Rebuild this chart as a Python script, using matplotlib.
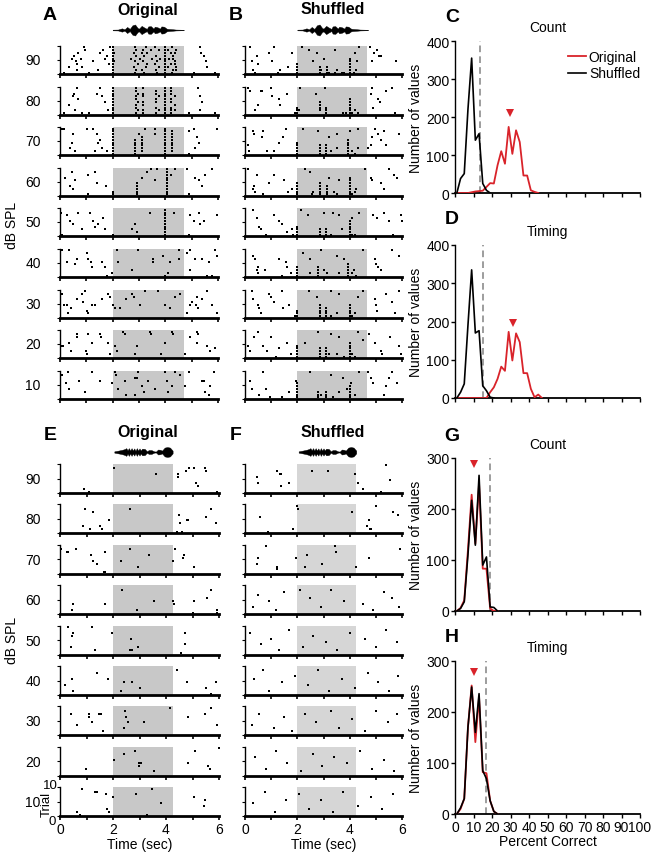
import matplotlib.pyplot as plt

plt.rcParams['font.family'] = ['Liberation Sans', 'DejaVu Sans']

W, H = 651, 853
RED = '#d9232a'
GRAY_A = '#c8c8c8'
GRAY_F = '#d6d6d6'

# ---------------- data ----------------
levels = [90, 80, 70, 60, 50, 40, 30, 20, 10]
ALL = [1, 2, 3, 4, 5, 6, 7, 8, 9, 10]

# raster spikes: (time in s, trial or list of trials)
A90 = [(2.0, ALL), (4.0, ALL), (2.85, [1, 5, 10]), (2.9, [2, 7, 9]), (2.8, [3, 8]), (2.95, [4]), (2.7, [6]),
       (3.2, [1, 7]), (3.1, [2, 8]), (3.25, [3, 10]), (3.3, [4, 8]), (3.15, [5, 9]), (3.05, [6]),
       (3.7, [1, 5]), (3.65, [2, 7]), (3.75, [3, 9]), (3.6, [4, 10]), (3.8, [6]), (3.5, [6]), (3.45, [9]),
       (4.25, [1, 10]), (4.3, [2, 7, 6]), (4.1, [3, 9]), (4.2, [4, 8]), (4.35, [5, 4, 8]), (4.15, [6]), (4.4, [2, 3, 9]),
       (2.05, [5, 8]), (0.15, 1), (0.65, [2, 4]), (0.35, 3), (0.85, 3), (0.6, 5), (1.25, 5), (0.45, 6), (0.8, 6),
       (1.7, 6), (0.55, 7), (1.8, 7), (0.7, 8), (1.5, 8), (0.95, 9), (1.65, 9), (0.9, 10), (1.9, 10), (1.12, 1),
       (1.45, 2), (1.85, 4), (5.1, 1), (5.9, 1), (5.6, 3), (5.55, 5), (5.45, 7), (5.35, 8), (5.3, 10)]
A80 = [(2.0, ALL), (4.0, ALL), (2.9, [1, 3, 4, 6, 7, 9, 10]), (2.95, [2, 5, 8]), (3.15, [1, 2, 4, 5, 7, 8, 10]),
       (3.65, [1, 3, 5, 6, 8, 9]), (3.75, [2, 7]), (4.2, [1, 2, 3, 5, 6, 8, 9, 10]), (4.35, [2, 4, 7]),
       (0.16, 1), (0.34, 4), (0.5, 7), (0.55, 8), (0.63, 10), (0.7, 6), (0.57, 2), (0.82, 1), (1.12, 1),
       (1.4, 8), (1.52, 10), (1.59, 7), (1.71, 5), (1.84, 2),
       (5.24, 10), (5.33, 7), (5.4, 5), (4.89, 1), (5.33, 2), (5.9, 1)]
A70 = [(2.0, ALL), (4.0, ALL), (2.83, [1, 2, 3, 4, 5, 6]), (3.13, [2, 3, 4, 5, 6, 7]), (3.24, 10), (3.62, [8, 10]),
       (4.25, [2, 3, 4, 5, 6, 7, 8, 9]), (3.0, 8),
       (0.06, 10), (0.16, 10), (0.44, 5), (0.5, 8), (0.38, 3), (0.57, 2), (1.02, 10), (1.27, 10), (1.4, 8),
       (1.46, 5), (1.33, 2), (1.59, 3), (1.78, 2), (1.52, 6),
       (4.89, 9), (5.08, 10), (5.2, 7), (5.27, 5), (5.14, 3), (5.96, 10), (4.89, 1)]
A60 = [(4.06, ALL), (2.92, [1, 2, 3, 4, 5]), (3.1, 7), (3.3, 9), (3.45, 10), (3.68, 10), (3.62, 6), (4.38, 10),
       (4.2, 8), (2.0, [1, 2]),
       (0.19, 7), (0.38, 4), (0.47, 9), (0.5, 3), (0.57, 6), (1.08, 1), (1.05, 8), (1.33, 9), (1.4, 5), (1.74, 4),
       (4.82, 10), (5.14, 7), (5.29, 6), (5.39, 4), (5.77, 10), (4.89, 1), (5.5, 8)]
A50 = [(4.0, ALL), (0.04, 9), (0.25, 8), (0.38, 6), (0.06, 1), (0.5, 5), (0.7, 9), (0.82, 3), (1.27, 6), (1.33, 4),
       (1.46, 5), (1.65, 7), (1.71, 3), (1.14, 9), (2.03, 1), (2.86, 5), (2.75, 3), (2.92, 2), (3.43, 9), (4.34, 9),
       (4.89, 1), (4.95, 8), (5.08, 6), (5.27, 9), (5.33, 5), (5.46, 6), (5.96, 8)]
A40 = [(0.06, 10), (0.34, 10), (0.25, 6), (0.57, 5), (0.63, 7), (1.02, 9), (1.08, 7), (1.18, 6), (1.21, 4),
       (1.59, 6), (1.71, 4), (1.78, 1), (1.97, 2), (2.16, 10), (2.2, 6), (2.73, 3), (2.98, 10), (3.53, 7),
       (3.55, 6), (3.9, 8), (4.0, 1), (4.12, 2), (4.19, 6), (4.5, 10), (4.52, 7), (4.82, 9), (4.95, 10), (4.95, 3),
       (5.14, 7), (5.39, 7), (5.65, 6), (5.9, 10), (5.96, 8), (5.77, 1), (5.58, 1)]
A30 = [(0.06, 9), (0.16, 5), (0.25, 5), (0.32, 2), (0.42, 4), (0.63, 7), (0.85, 9), (0.95, 10), (0.89, 6),
       (1.02, 3), (1.08, 2), (1.21, 5), (1.33, 5), (1.59, 7), (1.84, 9), (1.9, 8), (2.03, 5), (2.1, 4), (2.28, 4),
       (2.5, 7), (2.73, 9), (2.8, 8), (3.05, 5), (3.24, 10), (3.72, 10), (4.0, 5), (4.19, 4), (4.38, 8), (4.57, 9),
       (4.82, 2), (4.95, 5), (5.01, 6), (5.2, 8), (5.15, 5), (5.25, 4), (5.39, 7), (5.58, 10), (5.77, 5), (5.96, 2)]
A20 = [(0.06, 5), (0.12, 5), (0.34, 6), (0.42, 3), (0.63, 9), (0.66, 8), (1.05, 9), (1.02, 2), (0.98, 3),
       (1.21, 6), (1.52, 9), (1.55, 8), (1.84, 6), (1.9, 2), (2.07, 5), (2.16, 3), (2.41, 10), (2.47, 9), (2.86, 2),
       (2.92, 5), (3.4, 10), (3.47, 9), (3.85, 2), (4.0, 6), (4.25, 10), (4.3, 9), (4.76, 2), (4.95, 8), (5.2, 10),
       (5.25, 9), (5.58, 5), (5.71, 3), (5.9, 4), (5.2, 6)]
A10 = [(0.06, 9), (0.29, 10), (0.22, 6), (0.34, 4), (0.72, 7), (0.95, 3), (1.21, 10), (1.52, 7), (1.99, 6),
       (2.07, 10), (2.14, 9), (2.22, 4), (2.47, 7), (2.86, 8), (2.92, 8), (2.86, 2), (2.98, 10), (3.11, 5),
       (3.36, 7), (3.62, 4), (4.0, 10), (4.05, 7), (4.12, 3), (4.25, 5), (4.38, 10), (4.57, 9), (4.76, 5),
       (4.89, 10), (5.39, 7), (5.45, 7), (5.65, 2), (5.71, 5), (5.84, 10), (5.5, 3), (2.5, 2), (3.2, 3)]

B90 = [(2.0, [1, 2, 3, 4]), (2.85, [1, 2, 3]), (2.9, 2), (3.15, [1, 2, 3]), (3.2, 1), (3.45, 1), (3.5, 2), (3.7, 1),
       (3.8, 1), (4.0, [1, 2, 3, 4, 5, 6]), (4.15, 1), (4.25, 2),
       (2.17, 10), (2.43, 9), (2.75, 8), (3.45, 9), (4.21, 8), (4.28, 5), (4.34, 10), (3.0, 6), (2.6, 5),
       (0.19, 10), (0.45, 7), (0.26, 5), (0.32, 2), (0.4, 1), (0.5, 4), (0.9, 8), (1.12, 10), (1.02, 5),
       (1.34, 2), (1.28, 1), (1.79, 8), (1.66, 3),
       (4.76, 10), (4.92, 8), (5.11, 7), (5.2, 7), (4.85, 5), (5.77, 5), (5.05, 9)]
B80 = [(2.0, [1, 2, 3]), (2.05, 2), (2.85, [2, 3, 4, 5]), (3.1, [1, 2, 3]), (3.75, 1), (3.85, 1),
       (4.0, [1, 2, 3, 4, 5, 6]), (4.1, 1), (4.2, 2), (4.3, 1), (2.1, 10), (3.05, 10), (2.7, 8),
       (0.12, 10), (0.2, 9), (0.6, 9), (0.65, 9), (0.5, 4), (0.4, 2), (1.0, 10), (1.05, 7), (1.3, 6), (1.35, 4),
       (1.6, 8), (1.9, 1), (4.85, 10), (4.8, 8), (5.1, 6), (5.15, 5), (5.4, 9), (5.6, 10), (5.75, 1), (4.9, 3)]
B70 = [(2.0, [1, 2, 3, 4, 5]), (2.85, [1, 2, 3, 4]), (3.1, [1, 2, 3, 4]), (3.3, 2), (3.5, 3),
       (3.95, [1, 2, 3, 4, 5, 6]), (4.1, 2), (4.2, 1), (4.3, 3), (2.2, 10), (2.8, 9), (3.5, 8), (4.0, 9),
       (4.3, 10), (3.2, 7), (0.3, 9), (0.35, 8), (0.7, 9), (0.65, 7), (0.1, 4), (0.15, 2), (0.85, 2), (1.1, 2),
       (1.45, 7), (1.55, 10), (1.3, 5), (4.95, 10), (4.85, 7), (5.1, 8), (5.2, 6), (5.3, 9), (4.8, 4), (4.7, 3),
       (5.4, 4), (5.9, 8)]
B60 = [(2.0, [1, 2, 3, 4, 5]), (2.55, 1), (2.6, 2), (2.85, [1, 2, 3, 4, 5]), (3.15, [1, 2, 3, 4]), (3.4, 2),
       (3.5, 1), (4.0, [1, 2, 3, 4, 5, 6, 7]), (4.1, 1), (4.2, 2), (4.25, 3), (2.3, 10), (2.5, 9), (3.2, 7),
       (3.6, 6), (4.6, 10), (0.1, 10), (0.45, 8), (0.35, 4), (0.3, 3), (0.4, 2), (0.7, 1), (0.9, 5), (1.1, 8),
       (1.5, 6), (1.65, 2), (1.8, 3), (4.8, 7), (4.85, 6), (5.2, 5), (5.3, 3), (5.5, 10), (5.7, 8), (5.8, 7)]
B50 = [(2.0, [1, 2, 3, 4]), (2.85, [1, 2, 3]), (3.1, [1, 2, 3]), (3.3, 1), (3.7, 3), (4.0, [1, 2, 3, 4, 5, 6]),
       (4.1, 1), (4.2, 1), (2.15, 10), (2.4, 8), (3.0, 9), (3.35, 9), (3.6, 8), (4.1, 7), (4.35, 9),
       (0.3, 10), (0.45, 7), (0.55, 4), (0.6, 3), (0.8, 1), (1.1, 8), (1.3, 6), (1.4, 5), (1.6, 2), (1.8, 3),
       (1.85, 1), (4.9, 8), (5.05, 7), (5.3, 9), (5.5, 6), (5.65, 1), (5.95, 8), (6.0, 6)]
B40 = [(2.0, [1, 2, 3, 4]), (2.5, 2), (2.8, [1, 2, 3, 4]), (3.0, 3), (3.15, 2), (3.6, 2), (3.95, [1, 2, 3, 4, 5]),
       (4.1, 2), (4.15, 3), (4.25, 1), (2.2, 9), (2.5, 7), (2.9, 10), (3.5, 8), (3.8, 7), (4.5, 10),
       (0.3, 8), (0.4, 7), (0.5, 4), (0.45, 3), (0.5, 2), (0.75, 3), (1.3, 7), (1.55, 6), (1.6, 4), (1.75, 2),
       (1.4, 1), (4.95, 7), (5.0, 5), (5.1, 4), (5.2, 3), (5.6, 10), (5.9, 8)]
B30 = [(2.0, [1, 2, 3]), (2.85, [1, 2, 3, 4, 5]), (3.1, [1, 2, 3, 4]), (3.3, 1), (3.5, 2), (4.0, [1, 2, 3, 4, 5]),
       (4.1, 1), (4.2, 2), (2.45, 10), (2.75, 8), (3.3, 10), (3.6, 9), (4.5, 10), (4.3, 8),
       (0.25, 10), (0.3, 7), (0.5, 5), (0.55, 4), (0.6, 2), (0.9, 9), (1.0, 8), (1.1, 6), (1.4, 10), (1.45, 4),
       (1.7, 5), (1.9, 1), (4.95, 7), (5.0, 5), (5.05, 3), (5.4, 9), (5.6, 6), (5.9, 10), (5.75, 2)]
B20 = [(2.0, [1, 2, 3, 4, 5]), (2.85, [1, 2, 3, 4]), (3.1, [1, 2, 3, 4]), (3.2, 2), (3.5, 2), (3.8, 1),
       (4.0, [1, 2, 3, 4, 5, 6]), (4.1, 2), (4.2, 1), (2.8, 10), (3.3, 9), (3.6, 8), (4.3, 10), (2.3, 6), (4.5, 7),
       (0.1, 5), (0.2, 3), (0.35, 8), (0.5, 10), (0.7, 5), (0.85, 3), (1.0, 8), (1.2, 1), (1.3, 4), (1.6, 6),
       (1.75, 2), (4.75, 9), (4.95, 6), (5.2, 3), (5.25, 2), (5.55, 8), (5.9, 5), (5.95, 2)]
B10 = [(2.0, [1, 2, 3, 4, 5, 6]), (2.8, [1, 2, 3]), (2.9, 2), (3.1, [1, 2, 3]), (3.35, 1), (3.6, 3), (3.9, 4),
       (4.0, [1, 2, 3, 4, 5]), (4.05, 6), (4.2, 2), (2.5, 10), (3.3, 9), (3.75, 8), (4.35, 10), (1.95, 7),
       (0.2, 7), (0.25, 4), (0.55, 2), (0.7, 10), (0.8, 4), (0.95, 1), (1.4, 1), (1.7, 3),
       (4.7, 10), (4.8, 8), (4.9, 6), (5.6, 10), (5.5, 8), (5.4, 5), (5.8, 6), (5.3, 2)]

E90 = [(0.91, 2), (1.09, 1), (2.04, 9), (3.63, 7), (4.44, 7), (4.46, 6), (4.75, 8), (4.88, 9), (5.06, 9),
       (5.13, 4), (5.2, 3), (5.46, 9), (5.5, 8), (5.94, 1)]
E80 = [(0.96, 9), (1.25, 8), (0.88, 3), (1.15, 2), (1.5, 3), (1.59, 2), (1.84, 5), (2.66, 9), (4.5, 7),
       (4.53, 4), (4.41, 1), (4.6, 1), (4.79, 5), (4.84, 5), (5.5, 6), (5.69, 9), (5.88, 4)]
E70 = [(0.04, 9), (0.25, 8), (0.31, 8), (0.6, 9), (1.16, 7), (1.23, 5), (1.4, 4), (1.66, 1), (1.69, 1),
       (1.69, 8), (2.31, 5), (2.63, 9), (2.94, 3), (3.35, 7), (4.25, 5), (4.35, 9), (4.69, 7), (4.66, 6), (5.04, 3)]
E60 = [(0.5, 4), (0.44, 2), (1.69, 4), (2.35, 9), (2.91, 2), (3.54, 5), (4.25, 5), (4.31, 4), (5.06, 5),
       (5.0, 1), (5.54, 6), (5.71, 9), (5.91, 1), (5.94, 2)]
E50 = [(0.29, 10), (0.5, 8), (0.46, 7), (0.41, 3), (1.21, 10), (1.31, 2), (1.96, 8), (2.69, 6), (2.66, 2),
       (2.71, 2), (2.96, 3), (4.73, 8), (4.73, 4), (4.56, 1)]
E40 = [(0.2, 4), (0.45, 6), (0.5, 2), (1.4, 8), (1.8, 6), (2.3, 2), (2.4, 5), (2.7, 5), (3.0, 3), (4.4, 9),
       (4.8, 5), (5.5, 3), (5.7, 1), (5.9, 5)]
E30 = [(0.41, 8), (0.64, 4), (1.11, 8), (1.11, 7), (1.21, 5), (1.49, 8), (1.53, 8), (1.64, 2), (2.45, 9),
       (2.48, 7), (2.57, 5), (2.41, 3), (3.18, 5), (4.14, 10), (4.84, 7), (5.46, 8), (5.69, 10), (5.92, 4)]
E20 = [(0.98, 3), (2.03, 6), (2.42, 8), (2.83, 9), (2.99, 5), (3.04, 5), (2.99, 4), (3.53, 2), (4.83, 5),
       (5.08, 9), (5.59, 4), (5.67, 3), (6.0, 10)]
E10 = [(0.64, 2), (0.75, 1), (0.82, 10), (1.32, 9), (1.38, 9), (1.75, 8), (1.79, 3), (1.85, 2), (2.0, 7),
       (2.85, 8), (3.27, 1), (3.46, 10), (3.81, 5), (5.06, 7), (5.46, 6), (5.44, 4)]

F90 = [(0.44, 6), (0.49, 4), (1.22, 8), (1.35, 7), (1.39, 7), (1.39, 3), (1.69, 4), (2.55, 8), (3.18, 8),
       (4.19, 7), (4.31, 4), (4.5, 2), (5.2, 1), (5.38, 10), (5.55, 5)]
F80 = [(0.59, 6), (0.87, 1), (1.82, 2), (1.98, 10), (2.02, 9), (4.1, 8), (4.73, 5), (4.67, 3), (4.76, 2),
       (4.82, 2), (5.01, 10), (5.64, 8), (5.83, 7)]
F70 = [(0.82, 10), (0.49, 6), (0.44, 4), (1.22, 3), (1.22, 2), (1.94, 6), (2.38, 7), (2.3, 3), (2.93, 4),
       (3.43, 10), (3.49, 8), (4.25, 3), (4.75, 6), (5.93, 9)]
F60 = [(0.3, 3), (0.5, 7), (0.9, 5), (1.2, 2), (1.5, 8), (2.1, 9), (2.5, 6), (2.9, 3), (3.3, 9), (3.8, 5),
       (4.5, 4), (4.9, 2), (5.3, 8), (5.6, 6), (5.9, 3)]
F50 = [(0.2, 8), (0.6, 4), (1.0, 6), (1.3, 2), (1.7, 9), (2.2, 3), (2.6, 7), (3.1, 5), (3.5, 2), (4.0, 8),
       (4.6, 6), (5.0, 3), (5.4, 9), (5.8, 5)]
F40 = [(0.35, 6), (0.7, 9), (0.9, 2), (1.4, 5), (1.9, 7), (2.4, 4), (2.8, 9), (3.2, 2), (3.7, 6), (4.2, 3),
       (4.7, 8), (5.1, 5), (5.5, 2), (5.85, 7)]
F30 = [(0.25, 4), (0.55, 8), (1.1, 3), (1.5, 7), (1.8, 2), (2.3, 8), (2.7, 5), (3.3, 9), (3.6, 3), (4.1, 6),
       (4.6, 2), (5.0, 9), (5.45, 5), (5.8, 8)]
F20 = [(0.4, 7), (0.8, 3), (1.2, 9), (1.6, 5), (2.15, 2), (2.6, 8), (2.95, 4), (3.4, 7), (3.9, 5), (4.4, 9),
       (4.85, 3), (5.3, 6), (5.7, 2)]
F10 = [(0.3, 5), (0.75, 9), (1.15, 2), (1.55, 6), (2.05, 8), (2.45, 3), (2.9, 6), (3.35, 2), (3.75, 9),
       (4.3, 4), (4.8, 7), (5.25, 3), (5.65, 8)]

A_panels = [A90, A80, A70, A60, A50, A40, A30, A20, A10]
B_panels = [B90, B80, B70, B60, B50, B40, B30, B20, B10]
E_panels = [E90, E80, E70, E60, E50, E40, E30, E20, E10]
F_panels = [F90, F80, F70, F60, F50, F40, F30, F20, F10]

# stimulus envelopes (time s, relative amplitude)
envA_t = [2.0, 2.2, 2.35, 2.45, 2.55, 2.65, 2.75, 2.85, 2.95, 3.0, 3.1, 3.2, 3.3, 3.35, 3.45, 3.55, 3.6, 3.7,
          3.8, 3.85, 3.95, 4.05, 4.1, 4.25, 4.4, 4.7]
envA_a = [0.06, 0.08, 0.3, 0.12, 0.55, 0.2, 0.85, 1.0, 0.35, 0.25, 0.75, 0.45, 0.2, 0.65, 0.7, 0.25, 0.6, 0.5,
          0.25, 0.65, 0.6, 0.25, 0.2, 0.15, 0.08, 0.04]
envE_t = [2.05, 2.2, 2.35, 2.45, 2.5, 2.55, 2.6, 2.65, 2.7, 2.75, 2.8, 2.85, 2.9, 2.95, 3.0, 3.05, 3.1, 3.2,
          3.28, 3.35, 3.45, 3.55, 3.62, 3.7, 3.78, 3.85, 3.95, 4.05, 4.15, 4.25]
envE_a = [0.12, 0.25, 0.4, 0.55, 0.7, 0.3, 0.7, 0.25, 0.7, 0.25, 0.65, 0.2, 0.7, 0.25, 0.65, 0.25, 0.6, 0.55,
          0.12, 0.35, 0.35, 0.12, 0.08, 0.45, 0.4, 0.25, 0.8, 0.9, 0.8, 0.25]

# percent-correct histograms
pct_bins = [1, 3, 5, 7, 9, 11, 13, 15, 17, 19, 21, 23, 25, 27, 29, 31, 33, 35, 37, 39, 41, 43, 45, 47]
C_shuf = [0, 38, 51, 220, 355, 139, 156, 25, 7, 0]
C_orig = [0, 0, 0, 0, 2, 4, 5, 6, 16, 26, 25, 73, 110, 77, 174, 103, 165, 134, 46, 46, 7, 3, 0]
D_shuf = [0, 15, 37, 190, 335, 170, 176, 32, 19, 2, 0]
D_orig = [0, 0, 0, 0, 0, 0, 0, 0, 0, 15, 28, 50, 82, 71, 173, 98, 169, 146, 65, 65, 24, 2, 9, 0]
G_shuf = [0, 5, 18, 110, 217, 129, 266, 90, 106, 8, 7, 0]
G_orig = [0, 6, 21, 120, 228, 132, 250, 83, 83, 5, 0, 0]
H_shuf = [0, 12, 30, 170, 249, 160, 236, 85, 69, 26, 5, 0]
H_orig = [0, 10, 30, 170, 252, 141, 229, 82, 80, 26, 5, 0]
mean_mark = {'C': (29.5, 210), 'D': (31.3, 195), 'G': (10.5, 289), 'H': (10.5, 278)}
chance_line = {'C': 13.6, 'D': 15.4, 'G': 18.7, 'H': 17.0}

# ---------------- drawing ----------------
fig = plt.figure(figsize=(W / 100, H / 100), dpi=100)


def px_axes(x0, y_top, w, h):
    return fig.add_axes([x0 / W, 1 - (y_top + h) / H, w / W, h / H])


def px_text(x, y, s, **kw):
    kw.setdefault('ha', 'center')
    kw.setdefault('va', 'center')
    return fig.text(x / W, 1 - y / H, s, **kw)


def unpack(spikes):
    xs, ys = [], []
    for t, tr in spikes:
        for k in (tr if isinstance(tr, list) else [tr]):
            xs.append(t)
            ys.append(k - 0.5)
    return xs, ys


def raster(ax, spikes, stim_end, shade, bottom=False):
    xs, ys = unpack(spikes)
    ax.axvspan(2.0, stim_end, color=shade, lw=0, zorder=0)
    ax.plot(xs, ys, 's', ms=1.7, mew=0, color='k', zorder=3, clip_on=False)
    ax.set_xlim(0, 6)
    ax.set_ylim(0, 10)
    ax.spines['top'].set_visible(False)
    ax.spines['right'].set_visible(False)
    ax.spines['bottom'].set_linewidth(2)
    ax.spines['left'].set_linewidth(1)
    ax.set_xticks([0, 1, 2, 3, 4, 5, 6])
    ax.set_yticks([0, 5, 10])
    ax.set_yticklabels([])
    ax.tick_params(axis='x', length=3, width=1.2, labelsize=10, pad=1)
    ax.tick_params(axis='y', length=2, width=0.8)
    ax.patch.set_alpha(0)
    if bottom:
        ax.set_xticklabels(['0', '', '2', '', '4', '', '6'])
        ax.set_xlabel('Time (sec)', fontsize=10, labelpad=1)
    else:
        ax.set_xticklabels([])


def envelope(x0, width, yc, t, a):
    ax = px_axes(x0, yc - 8, width, 16)
    ax.fill_between(t, [-v for v in a], a, color='k', lw=0.3)
    ax.set_xlim(0, 6)
    ax.set_ylim(-1.45, 1.45)
    ax.axis('off')


# top half: A / B
for i, lev in enumerate(levels):
    bot = 75 + 40.6 * i
    axA = px_axes(60, bot - 28, 158, 28)
    raster(axA, A_panels[i], 4.7, GRAY_A)
    axB = px_axes(245, bot - 28, 157, 28)
    raster(axB, B_panels[i], 4.65, GRAY_A)
    px_text(33, bot - 14, str(lev), fontsize=10)

# bottom half: E / F
for i, lev in enumerate(levels):
    bot = 494 + 40.4 * i
    last = i == len(levels) - 1
    axE = px_axes(60, bot - 29, 159, 29)
    raster(axE, E_panels[i], 4.25, GRAY_A, bottom=last)
    axF = px_axes(245, bot - 29, 157, 29)
    raster(axF, F_panels[i], 4.25, GRAY_F, bottom=last)
    px_text(33, bot - 14, str(lev), fontsize=10)

# trial scale on the lowest E raster
px_text(50, 786, '10', fontsize=9.5)
px_text(47, 804, 'Trial', fontsize=9.5, rotation=90)
px_text(52, 822, '0', fontsize=9.5)

envelope(60, 158, 31, envA_t, envA_a)
envelope(245, 157, 31, envA_t, envA_a)
envelope(60, 159, 453, envE_t, envE_a)
envelope(245, 157, 453, envE_t, envE_a)

for x, y, s in [(148, 10, 'Original'), (333, 10, 'Shuffled'), (148, 433, 'Original'), (333, 433, 'Shuffled')]:
    px_text(x, y, s, fontsize=11.5, fontweight='bold')

px_text(12, 225, 'dB SPL', rotation=90, fontsize=10)
px_text(12, 640, 'dB SPL', rotation=90, fontsize=10)

for x, y, s in [(50, 15, 'A'), (236, 15, 'B'), (452, 17, 'C'), (452, 219, 'D'),
                (50, 436, 'E'), (236, 436, 'F'), (452, 437, 'G'), (452, 638, 'H')]:
    px_text(x, y, s, fontsize=14, fontweight='bold')


def hist_panel(key, top, bottom, ymax, shuf, orig, title, xlabels=False, legend=False):
    ax = px_axes(455, top, 185, bottom - top)
    ax.plot(pct_bins[:len(orig)], orig, color=RED, lw=1.3, zorder=3)
    ax.plot(pct_bins[:len(shuf)], shuf, color='k', lw=1.2, zorder=4)
    ax.axvline(chance_line[key], color='#8c8c8c', lw=1.2, ls=(0, (4, 2.5)), zorder=2)
    mx, my = mean_mark[key]
    ax.plot([mx], [my], 'v', color=RED, ms=6, mew=0, zorder=5)
    ax.set_xlim(0, 100)
    ax.set_ylim(0, ymax)
    ax.set_xticks(range(0, 101, 10))
    ax.set_yticks(range(0, ymax + 1, 100))
    ax.spines['top'].set_visible(False)
    ax.spines['right'].set_visible(False)
    ax.spines['left'].set_linewidth(1)
    ax.spines['bottom'].set_linewidth(1.3)
    ax.tick_params(length=3, width=1, labelsize=10, pad=1)
    if xlabels:
        ax.set_xlabel('Percent Correct', fontsize=10, labelpad=0)
    else:
        ax.set_xticklabels([])
    ax.set_ylabel('Number of values', fontsize=10, labelpad=2)
    ax.set_title(title, fontsize=10, pad=7)
    if legend:
        ax.plot([], [], color=RED, lw=1.3, label='Original')
        ax.plot([], [], color='k', lw=1.2, label='Shuffled')
        ax.legend(loc='upper right', bbox_to_anchor=(1.03, 0.98), frameon=False, fontsize=10,
                  handlelength=1.3, handletextpad=0.2, borderaxespad=0, labelspacing=0.2)


hist_panel('C', 42, 194, 400, C_shuf, C_orig, 'Count', legend=True)
hist_panel('D', 246, 399, 400, D_shuf, D_orig, 'Timing')
hist_panel('G', 459, 612, 300, G_shuf, G_orig, 'Count')
hist_panel('H', 662, 815, 300, H_shuf, H_orig, 'Timing', xlabels=True)

plt.savefig('out.png', dpi=100)
